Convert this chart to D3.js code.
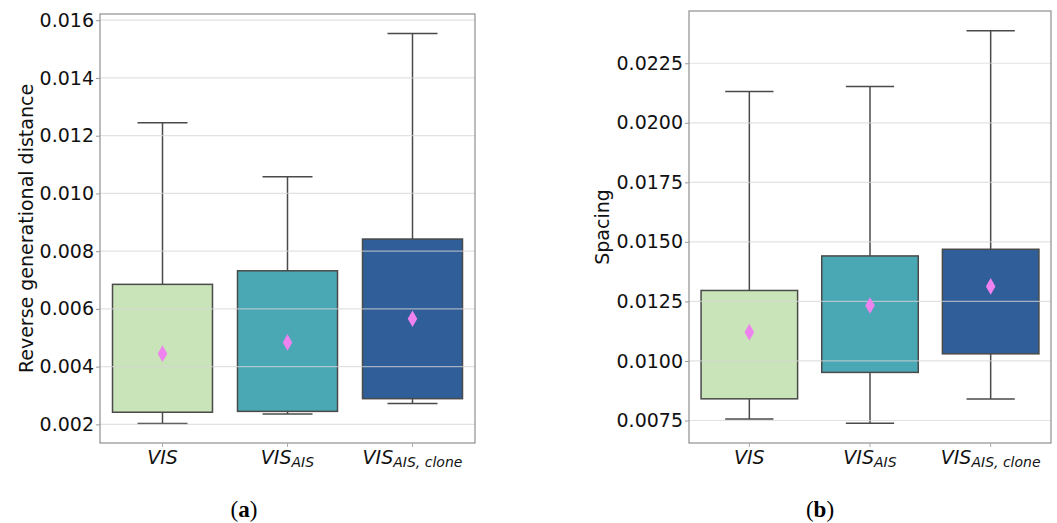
<!DOCTYPE html>
<html>
<head>
<meta charset="utf-8">
<script src="https://cdn.jsdelivr.net/npm/d3@7"></script>
<style>
  body { margin: 0; background: #fff; }
  svg { display: block; }
</style>
</head>
<body>
<svg id="chart" width="1057" height="523"></svg>
<script>
// ---------------- data ----------------
const categories = ["VIS", "VIS_AIS", "VIS_AIS,clone"];
const catBase = ["VIS", "VIS", "VIS"];
const catSub = ["", "AIS", "AIS, clone"];
const boxColors = ["#c9e4b8", "#4aa8b5", "#2f5e98"];

// panel (a): Reverse generational distance
const rgdWhiskerLow = [0.00203, 0.00236, 0.00272];
const rgdQ1 = [0.00242, 0.00245, 0.00289];
const rgdQ3 = [0.00685, 0.00732, 0.00842];
const rgdWhiskerHigh = [0.01245, 0.01058, 0.01554];
const rgdMean = [0.00445, 0.00484, 0.00566];
const rgdTicks = [0.002, 0.004, 0.006, 0.008, 0.010, 0.012, 0.014, 0.016];
const rgdTickLabels = ["0.002", "0.004", "0.006", "0.008", "0.010", "0.012", "0.014", "0.016"];

// panel (b): Spacing
const spWhiskerLow = [0.00756, 0.00738, 0.00840];
const spQ1 = [0.00841, 0.00952, 0.01030];
const spQ3 = [0.01296, 0.01441, 0.01469];
const spWhiskerHigh = [0.02131, 0.02152, 0.02387];
const spMean = [0.01121, 0.01233, 0.01313];
const spTicks = [0.0075, 0.0100, 0.0125, 0.0150, 0.0175, 0.0200, 0.0225];
const spTickLabels = ["0.0075", "0.0100", "0.0125", "0.0150", "0.0175", "0.0200", "0.0225"];

const svg = d3.select("#chart");
const sansFont = "DejaVu Sans, sans-serif";

function drawPanel(cfg) {
  const { left, right, top, bottom, lo, q1, q3, hi, mean, ticks, tickLabels,
          yLabel, yLabelX, caption, captionX } = cfg;
  const g = svg.append("g");
  const allVals = lo.concat(hi);
  const dmin = d3.min(allVals), dmax = d3.max(allVals);
  const pad = (dmax - dmin) * 0.05;
  const y = d3.scaleLinear().domain([dmin - pad, dmax + pad]).range([bottom, top]);
  const x = d3.scaleBand().domain(categories).range([left, right])
    .paddingInner(0.2).paddingOuter(0.1);

  const rows = categories.map((c, i) => ({
    c, i, lo: lo[i], q1: q1[i], q3: q3[i], hi: hi[i], mean: mean[i]
  }));

  // whiskers
  rows.forEach(d => {
    const cx = x(d.c) + x.bandwidth() / 2;
    const capW = x.bandwidth() / 2;
    g.append("line").attr("x1", cx).attr("x2", cx).attr("y1", y(d.q3)).attr("y2", y(d.hi))
      .attr("stroke", "#4a4a4a").attr("stroke-width", 1.5);
    g.append("line").attr("x1", cx).attr("x2", cx).attr("y1", y(d.q1)).attr("y2", y(d.lo))
      .attr("stroke", "#4a4a4a").attr("stroke-width", 1.5);
    g.append("line").attr("x1", cx - capW / 2).attr("x2", cx + capW / 2)
      .attr("y1", y(d.hi)).attr("y2", y(d.hi)).attr("stroke", "#4a4a4a").attr("stroke-width", 1.5);
    g.append("line").attr("x1", cx - capW / 2).attr("x2", cx + capW / 2)
      .attr("y1", y(d.lo)).attr("y2", y(d.lo)).attr("stroke", "#4a4a4a").attr("stroke-width", 1.5);
  });

  // boxes
  g.selectAll("rect.box").data(rows).join("rect")
    .attr("class", "box")
    .attr("x", d => x(d.c))
    .attr("width", x.bandwidth())
    .attr("y", d => y(d.q3))
    .attr("height", d => y(d.q1) - y(d.q3))
    .attr("fill", d => boxColors[d.i])
    .attr("stroke", "#4a4a4a")
    .attr("stroke-width", 1.5);

  // grid lines (drawn over boxes, semi-transparent)
  g.selectAll("line.grid").data(ticks).join("line")
    .attr("class", "grid")
    .attr("x1", left).attr("x2", right)
    .attr("y1", d => y(d)).attr("y2", d => y(d))
    .attr("stroke", "#d6d6d6").attr("stroke-opacity", 0.7).attr("stroke-width", 1.2);

  // mean markers
  g.selectAll("path.mean").data(rows).join("path")
    .attr("class", "mean")
    .attr("d", d3.symbol().type(d3.symbolDiamond).size(80))
    .attr("transform", d => `translate(${x(d.c) + x.bandwidth() / 2},${y(d.mean)})`)
    .attr("fill", "#ee82ee");

  // frame
  g.append("rect").attr("x", left).attr("y", top)
    .attr("width", right - left).attr("height", bottom - top)
    .attr("fill", "none").attr("stroke", "#8f8f8f").attr("stroke-width", 1.2);

  // y axis
  const yAxis = d3.axisLeft(y).tickValues(ticks)
    .tickFormat((d, i) => tickLabels[i]).tickSize(4).tickPadding(2);
  const ya = g.append("g").attr("transform", `translate(${left},0)`).call(yAxis);
  ya.select(".domain").remove();
  ya.selectAll(".tick line").attr("stroke", "#999");
  ya.selectAll(".tick text").attr("font-family", sansFont).attr("font-size", 19)
    .attr("fill", "#111");

  // x axis ticks
  const xa = g.append("g").attr("transform", `translate(0,${bottom})`)
    .call(d3.axisBottom(x).tickSize(4).tickFormat(() => ""));
  xa.select(".domain").remove();
  xa.selectAll(".tick line").attr("stroke", "#aaa");

  // x tick labels (italic with subscript)
  rows.forEach(d => {
    const cx = x(d.c) + x.bandwidth() / 2;
    const t = g.append("text").attr("x", cx).attr("y", bottom + 21)
      .attr("text-anchor", "middle").attr("font-family", sansFont)
      .attr("font-style", "italic").attr("font-size", 19).attr("fill", "#111");
    t.append("tspan").text(catBase[d.i]);
    if (catSub[d.i]) {
      t.append("tspan").attr("font-size", 14).attr("dy", 3).text(catSub[d.i]);
    }
  });

  // y label
  g.append("text")
    .attr("transform", `translate(${yLabelX},${(top + bottom) / 2}) rotate(-90)`)
    .attr("text-anchor", "middle").attr("font-family", sansFont)
    .attr("font-size", 19).attr("fill", "#111").text(yLabel);

  // caption
  const cap = svg.append("text").attr("x", captionX).attr("y", 517)
    .attr("text-anchor", "middle").attr("font-family", "Liberation Serif, serif")
    .attr("font-size", 23).attr("fill", "#000");
  cap.append("tspan").text("(");
  cap.append("tspan").attr("font-weight", "bold").text(caption);
  cap.append("tspan").text(")");
}

drawPanel({
  left: 100, right: 475, top: 14, bottom: 443,
  lo: rgdWhiskerLow, q1: rgdQ1, q3: rgdQ3, hi: rgdWhiskerHigh, mean: rgdMean,
  ticks: rgdTicks, tickLabels: rgdTickLabels,
  yLabel: "Reverse generational distance", yLabelX: 33,
  caption: "a", captionX: 244
});

drawPanel({
  left: 689, right: 1051, top: 11, bottom: 443,
  lo: spWhiskerLow, q1: spQ1, q3: spQ3, hi: spWhiskerHigh, mean: spMean,
  ticks: spTicks, tickLabels: spTickLabels,
  yLabel: "Spacing", yLabelX: 609,
  caption: "b", captionX: 820
});
</script>
</body>
</html>
